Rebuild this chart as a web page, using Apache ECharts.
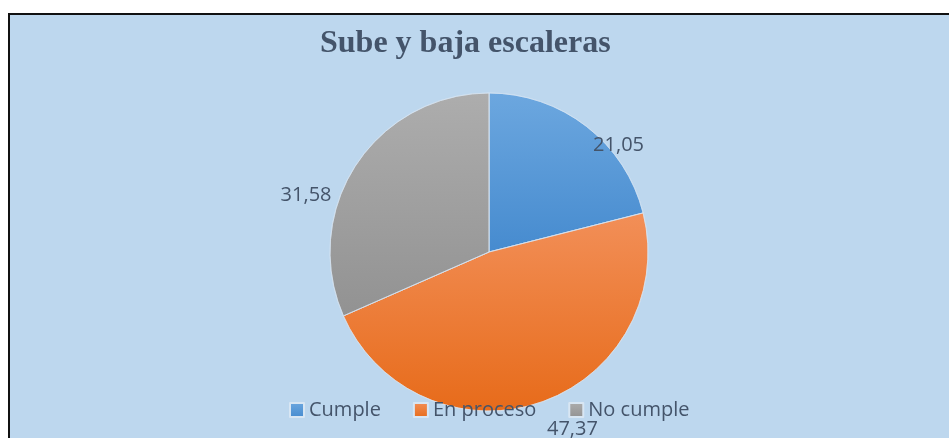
<!DOCTYPE html>
<html>
<head>
<meta charset="utf-8">
<script src="https://cdn.jsdelivr.net/npm/echarts@6/dist/echarts.min.js"></script>
<style>
  html, body { margin: 0; padding: 0; background: #fff; }
  #chart { width: 949px; height: 438px; }
</style>
</head>
<body>
<div id="chart"></div>
<script>
// datos
const categories = ['Cumple', 'En proceso', 'No cumple']
const values = [21.05, 47.37, 31.58]
const colorStops = [
  ['#6ca7df', '#468bcf'],
  ['#f28f58', '#e76b1a'],
  ['#adadad', '#929292']
]
// ajuste manual de las etiquetas (estilo "best fit" de Excel)
const labelShift = [[-1, 22], [0, 23], [-16, 32]]

const chart = echarts.init(document.getElementById('chart'))

const option = {
  backgroundColor: '#ffffff',
  graphic: [{
    type: 'rect',
    z: -10,
    shape: { x: 9, y: 14, width: 960, height: 440 },
    style: { fill: '#bdd7ee', stroke: '#111', lineWidth: 2 }
  }],
  title: {
    text: 'Sube y baja escaleras',
    left: 315,
    top: 23,
    textStyle: {
      fontFamily: 'Liberation Serif',
      fontWeight: 'bold',
      fontSize: 32,
      color: '#44546a'
    }
  },
  legend: {
    left: 284,
    top: 395,
    itemWidth: 14,
    itemHeight: 14,
    itemGap: 32,
    icon: 'rect',
    textStyle: {
      fontFamily: 'Open Sans',
      fontSize: 20,
      color: '#44546a'
    },
    data: categories
  },
  series: [{
    type: 'pie',
    center: [489, 252],
    radius: 159,
    startAngle: 90,
    clockwise: true,
    avoidLabelOverlap: false,
    z: 1,
    itemStyle: { borderColor: '#d8e6f3', borderWidth: 0.6 },
    label: {
      show: true,
      position: 'outside',
      fontFamily: 'Open Sans',
      fontSize: 20,
      color: '#44546a',
      formatter: (p) => p.value.toFixed(2).replace('.', ',')
    },
    labelLine: { show: false, length: 4, length2: 0 },
    labelLayout: (p) => ({ dx: labelShift[p.dataIndex][0], dy: labelShift[p.dataIndex][1] }),
    emphasis: { disabled: true },
    data: categories.map((name, i) => ({
      name: name,
      value: values[i],
      itemStyle: {
        color: new echarts.graphic.LinearGradient(0, 0, 0, 1, [
          { offset: 0, color: colorStops[i][0] },
          { offset: 1, color: colorStops[i][1] }
        ])
      }
    }))
  }]
}

chart.setOption(option)
</script>
</body>
</html>
